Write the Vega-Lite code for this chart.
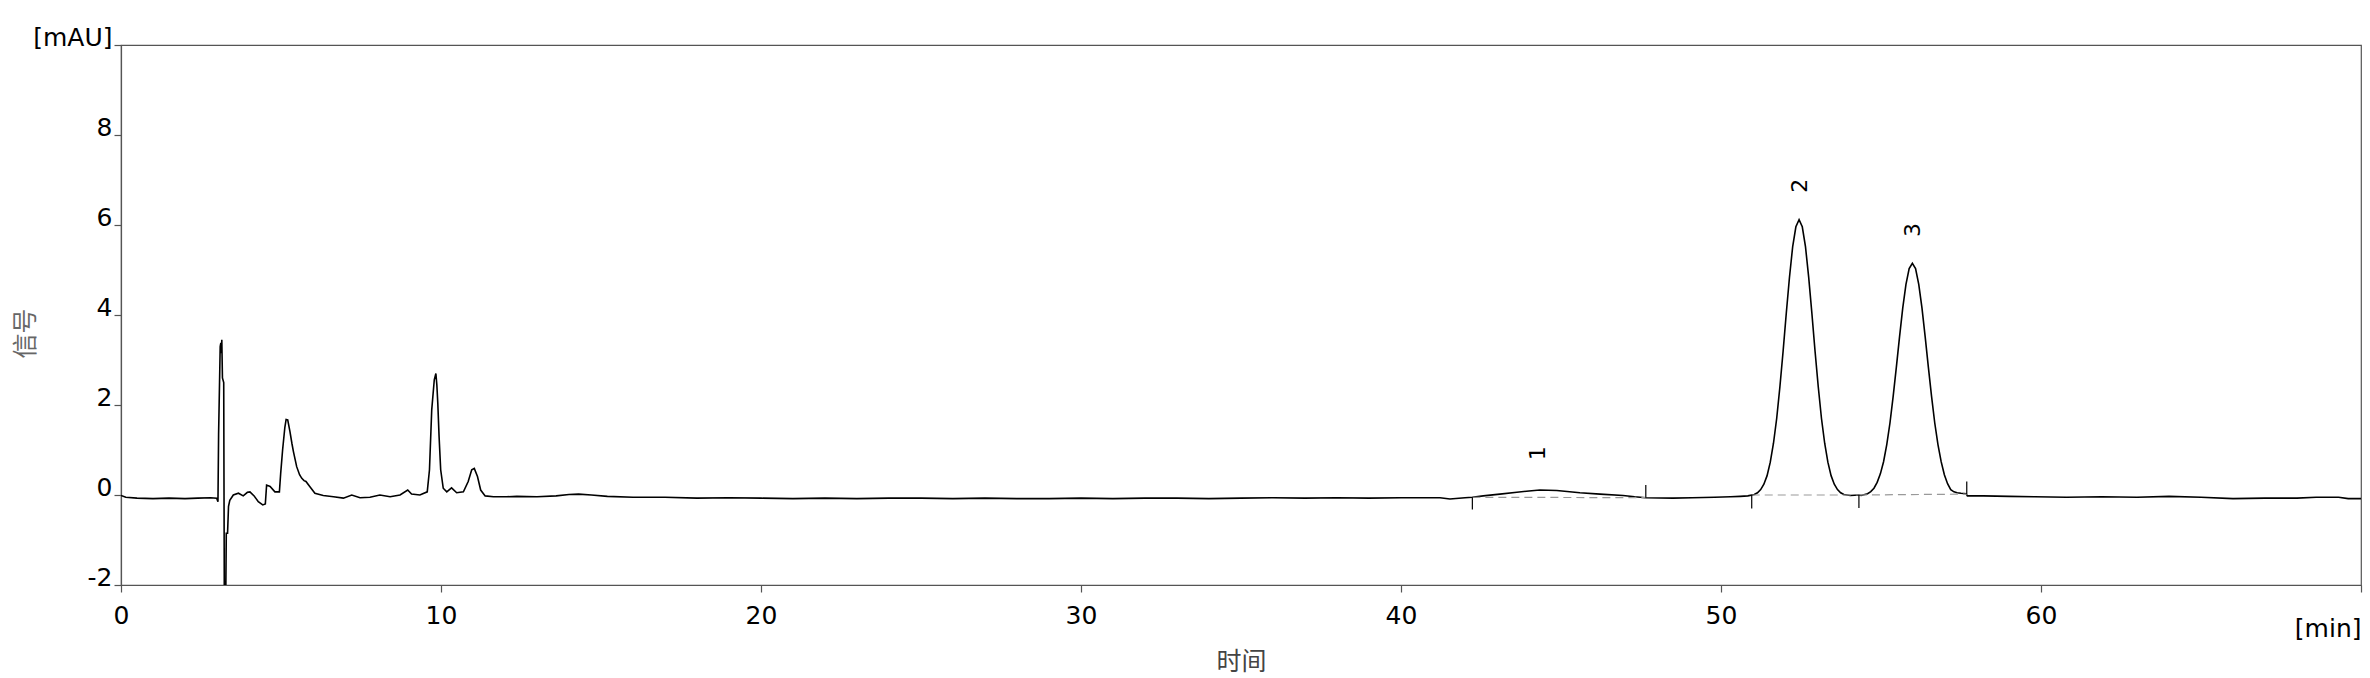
{
  "$schema": "https://vega.github.io/schema/vega-lite/v6.json",
  "autosize": {"type": "none"},
  "width": 2240,
  "height": 540,
  "padding": {"left": 121, "top": 45, "right": 9, "bottom": 93},
  "background": "white",
  "config": {
    "view": {"stroke": "#555", "strokeWidth": 1.2},
    "axis": {
      "domainColor": "#555", "domainWidth": 1.2, "tickColor": "#555", "tickWidth": 1.2, "tickSize": 7,
      "labelFont": "DejaVu Sans", "labelFontSize": 25, "labelColor": "#000", "grid": false,
      "titleFont": "Noto Sans CJK SC", "titleFontSize": 25, "titleFontWeight": "normal", "titleColor": "#444"
    }
  },
  "datasets": {
    "trace": [
      {"t": 0.0, "v": -0.01}, {"t": 0.15, "v": -0.05}, {"t": 0.5, "v": -0.07}, {"t": 1.0, "v": -0.08}, {"t": 1.5, "v": -0.07},
      {"t": 2.0, "v": -0.08}, {"t": 2.4, "v": -0.07}, {"t": 2.8, "v": -0.06}, {"t": 2.99, "v": -0.07}, {"t": 3.03, "v": -0.15},
      {"t": 3.05, "v": 1.35}, {"t": 3.10, "v": 3.30}, {"t": 3.12, "v": 3.38}, {"t": 3.14, "v": 3.15}, {"t": 3.15, "v": 3.45},
      {"t": 3.17, "v": 2.60}, {"t": 3.21, "v": 2.50}, {"t": 3.23, "v": -2.6}, {"t": 3.27, "v": -2.6}, {"t": 3.29, "v": -0.85},
      {"t": 3.33, "v": -0.85}, {"t": 3.36, "v": -0.25}, {"t": 3.40, "v": -0.12}, {"t": 3.51, "v": 0.0}, {"t": 3.67, "v": 0.04},
      {"t": 3.82, "v": -0.02}, {"t": 3.95, "v": 0.06}, {"t": 4.03, "v": 0.07}, {"t": 4.16, "v": -0.02}, {"t": 4.29, "v": -0.15},
      {"t": 4.43, "v": -0.22}, {"t": 4.51, "v": -0.20}, {"t": 4.55, "v": 0.22}, {"t": 4.66, "v": 0.19}, {"t": 4.81, "v": 0.07},
      {"t": 4.95, "v": 0.07}, {"t": 4.99, "v": 0.48}, {"t": 5.05, "v": 1.0}, {"t": 5.12, "v": 1.50}, {"t": 5.16, "v": 1.68},
      {"t": 5.21, "v": 1.67}, {"t": 5.28, "v": 1.41}, {"t": 5.34, "v": 1.15}, {"t": 5.39, "v": 0.96}, {"t": 5.49, "v": 0.63},
      {"t": 5.58, "v": 0.45}, {"t": 5.65, "v": 0.37}, {"t": 5.72, "v": 0.32}, {"t": 5.78, "v": 0.30}, {"t": 5.91, "v": 0.18},
      {"t": 6.06, "v": 0.04}, {"t": 6.32, "v": -0.01}, {"t": 6.64, "v": -0.04}, {"t": 6.95, "v": -0.07}, {"t": 7.21, "v": 0.0},
      {"t": 7.47, "v": -0.06}, {"t": 7.78, "v": -0.05}, {"t": 8.09, "v": 0.0}, {"t": 8.41, "v": -0.04}, {"t": 8.72, "v": 0.0},
      {"t": 8.96, "v": 0.11}, {"t": 9.08, "v": 0.02}, {"t": 9.34, "v": 0.0}, {"t": 9.57, "v": 0.07}, {"t": 9.64, "v": 0.56},
      {"t": 9.71, "v": 1.89}, {"t": 9.79, "v": 2.56}, {"t": 9.84, "v": 2.70}, {"t": 9.87, "v": 2.45}, {"t": 9.90, "v": 2.04},
      {"t": 9.94, "v": 1.30}, {"t": 9.99, "v": 0.56}, {"t": 10.07, "v": 0.15}, {"t": 10.18, "v": 0.07}, {"t": 10.33, "v": 0.16},
      {"t": 10.49, "v": 0.05}, {"t": 10.70, "v": 0.07}, {"t": 10.85, "v": 0.30}, {"t": 10.96, "v": 0.56}, {"t": 11.04, "v": 0.59},
      {"t": 11.14, "v": 0.41}, {"t": 11.24, "v": 0.11}, {"t": 11.38, "v": -0.02}, {"t": 11.64, "v": -0.04}, {"t": 12.05, "v": -0.04},
      {"t": 12.37, "v": -0.03}, {"t": 13.0, "v": -0.04}, {"t": 13.6, "v": -0.02}, {"t": 14.0, "v": 0.01}, {"t": 14.3, "v": 0.02},
      {"t": 14.7, "v": 0.0}, {"t": 15.2, "v": -0.03}, {"t": 16.0, "v": -0.05}, {"t": 17.0, "v": -0.05}, {"t": 18.0, "v": -0.07},
      {"t": 19.0, "v": -0.06}, {"t": 20.0, "v": -0.07}, {"t": 21.0, "v": -0.08}, {"t": 22.0, "v": -0.07}, {"t": 23.0, "v": -0.08},
      {"t": 24.0, "v": -0.07}, {"t": 25.0, "v": -0.07}, {"t": 26.0, "v": -0.08}, {"t": 27.0, "v": -0.07}, {"t": 28.0, "v": -0.08},
      {"t": 29.0, "v": -0.08}, {"t": 30.0, "v": -0.07}, {"t": 31.0, "v": -0.08}, {"t": 32.0, "v": -0.07}, {"t": 33.0, "v": -0.07},
      {"t": 34.0, "v": -0.08}, {"t": 35.0, "v": -0.07}, {"t": 36.0, "v": -0.06}, {"t": 37.0, "v": -0.07}, {"t": 38.0, "v": -0.06},
      {"t": 39.0, "v": -0.07}, {"t": 40.0, "v": -0.06}, {"t": 41.22, "v": -0.06}, {"t": 41.53, "v": -0.09}, {"t": 42.0, "v": -0.06},
      {"t": 42.23, "v": -0.05}, {"t": 42.57, "v": -0.02}, {"t": 43.09, "v": 0.02}, {"t": 43.62, "v": 0.06}, {"t": 44.0, "v": 0.09},
      {"t": 44.34, "v": 0.11}, {"t": 44.87, "v": 0.10}, {"t": 45.59, "v": 0.05}, {"t": 46.22, "v": 0.02}, {"t": 46.94, "v": -0.01},
      {"t": 47.3, "v": -0.04}, {"t": 47.65, "v": -0.06}, {"t": 48.5, "v": -0.07}, {"t": 49.1, "v": -0.06}, {"t": 49.8, "v": -0.05},
      {"t": 50.3, "v": -0.04}, {"t": 50.6, "v": -0.03}, {"t": 50.84, "v": -0.02}, {"t": 51.04, "v": 0.01}, {"t": 51.14, "v": 0.05},
      {"t": 51.24, "v": 0.12}, {"t": 51.34, "v": 0.24}, {"t": 51.44, "v": 0.43}, {"t": 51.54, "v": 0.73}, {"t": 51.64, "v": 1.15},
      {"t": 51.74, "v": 1.70}, {"t": 51.84, "v": 2.40}, {"t": 51.94, "v": 3.19}, {"t": 52.04, "v": 4.04}, {"t": 52.14, "v": 4.84},
      {"t": 52.24, "v": 5.52}, {"t": 52.34, "v": 5.96}, {"t": 52.44, "v": 6.12}, {"t": 52.54, "v": 5.96}, {"t": 52.64, "v": 5.52},
      {"t": 52.74, "v": 4.84}, {"t": 52.84, "v": 4.04}, {"t": 52.94, "v": 3.19}, {"t": 53.04, "v": 2.40}, {"t": 53.14, "v": 1.70},
      {"t": 53.24, "v": 1.15}, {"t": 53.34, "v": 0.73}, {"t": 53.44, "v": 0.43}, {"t": 53.54, "v": 0.24}, {"t": 53.64, "v": 0.12},
      {"t": 53.74, "v": 0.05}, {"t": 53.84, "v": 0.01}, {"t": 54.04, "v": -0.01}, {"t": 54.31, "v": 0.0}, {"t": 54.38, "v": -0.01},
      {"t": 54.58, "v": 0.03}, {"t": 54.68, "v": 0.075}, {"t": 54.78, "v": 0.15}, {"t": 54.88, "v": 0.28}, {"t": 54.98, "v": 0.47},
      {"t": 55.08, "v": 0.74}, {"t": 55.18, "v": 1.12}, {"t": 55.28, "v": 1.60}, {"t": 55.38, "v": 2.19}, {"t": 55.48, "v": 2.84},
      {"t": 55.58, "v": 3.52}, {"t": 55.68, "v": 4.16}, {"t": 55.78, "v": 4.68}, {"t": 55.88, "v": 5.03}, {"t": 55.98, "v": 5.15},
      {"t": 56.08, "v": 5.03}, {"t": 56.18, "v": 4.68}, {"t": 56.28, "v": 4.16}, {"t": 56.38, "v": 3.52}, {"t": 56.48, "v": 2.84},
      {"t": 56.58, "v": 2.19}, {"t": 56.68, "v": 1.60}, {"t": 56.78, "v": 1.12}, {"t": 56.88, "v": 0.74}, {"t": 56.98, "v": 0.45},
      {"t": 57.08, "v": 0.25}, {"t": 57.18, "v": 0.12}, {"t": 57.28, "v": 0.07}, {"t": 57.38, "v": 0.05}, {"t": 57.5, "v": 0.04},
      {"t": 57.66, "v": 0.03}, {"t": 57.7, "v": -0.02}, {"t": 58.2, "v": -0.02}, {"t": 59.0, "v": -0.03}, {"t": 59.8, "v": -0.04},
      {"t": 60.8, "v": -0.05}, {"t": 61.9, "v": -0.04}, {"t": 63.0, "v": -0.05}, {"t": 64.0, "v": -0.03}, {"t": 65.0, "v": -0.05},
      {"t": 66.0, "v": -0.08}, {"t": 67.0, "v": -0.07}, {"t": 68.0, "v": -0.07}, {"t": 68.6, "v": -0.05}, {"t": 69.3, "v": -0.05},
      {"t": 69.6, "v": -0.08}, {"t": 70.0, "v": -0.08}
    ],
    "baselines": [
      {"t": 42.23, "v": -0.05, "t2": 47.65, "v2": -0.06},
      {"t": 50.96, "v": 0.0, "t2": 54.31, "v2": 0.0},
      {"t": 54.31, "v": 0.0, "t2": 57.68, "v2": 0.02}
    ],
    "marks": [
      {"t": 42.23, "v": -0.05, "v2": -0.32},
      {"t": 47.65, "v": -0.06, "v2": 0.22},
      {"t": 50.96, "v": 0.0, "v2": -0.30},
      {"t": 54.31, "v": 0.0, "v2": -0.29},
      {"t": 57.68, "v": 0.02, "v2": 0.30}
    ],
    "labels": [
      {"t": 44.28, "v": 0.93, "label": "1"},
      {"t": 52.47, "v": 6.87, "label": "2"},
      {"t": 56.0, "v": 5.89, "label": "3"}
    ]
  },
  "layer": [
    {
      "data": {"name": "trace"},
      "mark": {"type": "line", "color": "#000", "strokeWidth": 1.6, "clip": true, "interpolate": "linear"},
      "encoding": {
        "x": {
          "field": "t", "type": "quantitative",
          "scale": {"domain": [0, 70], "nice": false, "zero": false},
          "axis": {
            "title": "时间",
            "values": [0, 10, 20, 30, 40, 50, 60, 70],
            "labelExpr": "datum.value == 70 ? '[min]' : datum.label",
            "labelAlign": {"condition": {"test": "datum.value == 70", "value": "right"}, "value": "center"},
            "labelPadding": {"condition": {"test": "datum.value == 70", "value": 24}, "value": 11},
            "labelBaseline": "top",
            "labelFlush": false,
            "labelOverlap": false,
            "titleX": 1120,
            "titleY": 76,
            "titleAlign": "center",
            "titleBaseline": "middle"
          }
        },
        "y": {
          "field": "v", "type": "quantitative",
          "scale": {"domain": [-2, 10], "nice": false, "zero": false},
          "axis": {
            "title": "信号",
            "values": [-2, 0, 2, 4, 6, 8, 10],
            "labelExpr": "datum.value == 10 ? '[mAU]' : (datum.value < 0 ? '-' + abs(datum.value) : datum.label)",
            "labelAlign": "right",
            "labelBaseline": "alphabetic",
            "labelPadding": 2,
            "labelFlush": false,
            "labelOverlap": false,
            "titleX": -96,
            "titleY": 288,
            "titleAngle": 270,
            "titleAlign": "center",
            "titleBaseline": "middle",
            "titleColor": "#666"
          }
        }
      }
    },
    {
      "data": {"name": "baselines"},
      "mark": {"type": "rule", "color": "#999", "strokeWidth": 1.2, "strokeDash": [8, 5]},
      "encoding": {
        "x": {"field": "t", "type": "quantitative"},
        "x2": {"field": "t2"},
        "y": {"field": "v", "type": "quantitative"},
        "y2": {"field": "v2"}
      }
    },
    {
      "data": {"name": "marks"},
      "mark": {"type": "rule", "color": "#000", "strokeWidth": 1.2},
      "encoding": {
        "x": {"field": "t", "type": "quantitative"},
        "y": {"field": "v", "type": "quantitative"},
        "y2": {"field": "v2"}
      }
    },
    {
      "data": {"name": "labels"},
      "mark": {"type": "text", "font": "DejaVu Sans", "fontSize": 22, "color": "#000", "angle": 270, "align": "center", "baseline": "middle"},
      "encoding": {
        "x": {"field": "t", "type": "quantitative"},
        "y": {"field": "v", "type": "quantitative"},
        "text": {"field": "label"}
      }
    }
  ]
}
